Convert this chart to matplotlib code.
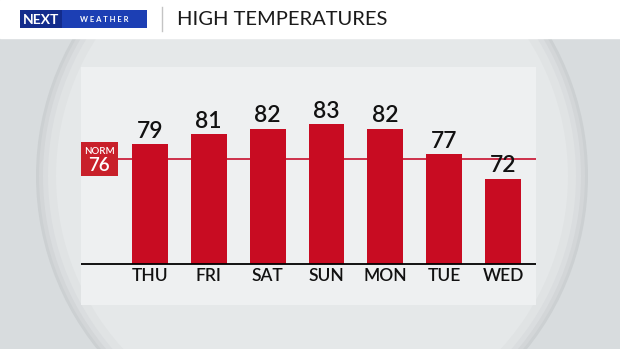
import numpy as np
import matplotlib.pyplot as plt
from matplotlib.patches import Rectangle, Circle
import matplotlib.transforms as mtransforms

# --- datos ---
dias = ['THU', 'FRI', 'SAT', 'SUN', 'MON', 'TUE', 'WED']
maximas = [79, 81, 82, 83, 82, 77, 72]
normal = 76
titulo = 'HIGH TEMPERATURES'

plt.rcParams['font.family'] = ['Lato', 'DejaVu Sans']

fig = plt.figure(figsize=(6.2, 3.49), dpi=100)

# --- fondo en pixeles ---
bg = fig.add_axes([0, 0, 1, 1])
bg.set_xlim(0, 620)
bg.set_ylim(349, 0)
bg.axis('off')
bg.add_patch(Rectangle((0, 0), 620, 349, color='#d8dcde', zorder=0))
# esfera (borde sombreado suave)
bg.add_patch(Circle((312, 176), 276, color='#ccd0d2', lw=0, zorder=1))
for r, c in [(273, '#d3d6d8'), (269, '#dadddf'), (264, '#e0e3e4'), (256, '#e5e8e9')]:
    bg.add_patch(Circle((312, 176), r, color=c, lw=0, zorder=1))
# cabecera
bg.add_patch(Rectangle((0, 0), 620, 38, color='white', zorder=2))
bg.add_patch(Rectangle((20, 10), 42, 18, color='#132c8c', lw=0, zorder=3))
bg.add_patch(Rectangle((62, 10), 85, 18, color='#1c3fb4', lw=0, zorder=3))
bg.text(41, 19.5, 'NEXT', color='white', fontsize=10, fontweight='bold',
        ha='center', va='center', zorder=4)
bg.text(104, 19.5, 'W E A T H E R', color='white', fontsize=5.5, fontweight='bold',
        ha='center', va='center', zorder=4)
bg.plot([162, 162], [7, 31], color='#c4c4c4', lw=1, zorder=3)
bg.text(177, 19.5, titulo, color='#1a1a1a', fontsize=14.5,
        ha='left', va='center', zorder=4)

# --- grafico ---
ax = fig.add_axes([81 / 620, 44 / 349, 455 / 620, 238 / 349])
ax.set_facecolor('#eef0f1')
x = np.arange(len(dias))
ax.set_xlim(-1.17, 6.56)
ax.set_ylim(46.8, 94.4)
for s in ax.spines.values():
    s.set_visible(False)
ax.set_xticks([])
ax.set_yticks([])

ax.bar(x, np.array(maximas) - 55, bottom=55, width=0.61, color='#c80c22', zorder=2)
ax.axhline(55, color='black', lw=1.3, zorder=3)

trans = mtransforms.blended_transform_factory(ax.transAxes, ax.transData)
ax.plot([0.08, 1], [normal, normal], color='#c8102e', lw=1.2, transform=trans, zorder=1)
ax.add_patch(Rectangle((0, normal - 3.4), 0.081, 6.8, color='#c8202a',
                       transform=trans, zorder=4, lw=0))
ax.text(0.0405, normal + 1.6, 'NORM', color='white', fontsize=7, fontweight='semibold',
        ha='center', va='center', transform=trans, zorder=5)
ax.text(0.0405, normal - 1.3, str(normal), color='white', fontsize=13.5, fontweight='semibold',
        ha='center', va='center', transform=trans, zorder=5)

for xi, v, d in zip(x, maximas, dias):
    ax.text(xi, v + 0.5, str(v), fontsize=16.5, fontweight='semibold', ha='center',
            va='bottom', color='#111111', zorder=5)
    ax.text(xi, 52.6, d, fontsize=12.5, fontweight='semibold', ha='center',
            va='center', color='#111111', zorder=5)

fig.savefig('out.png', dpi=100)
